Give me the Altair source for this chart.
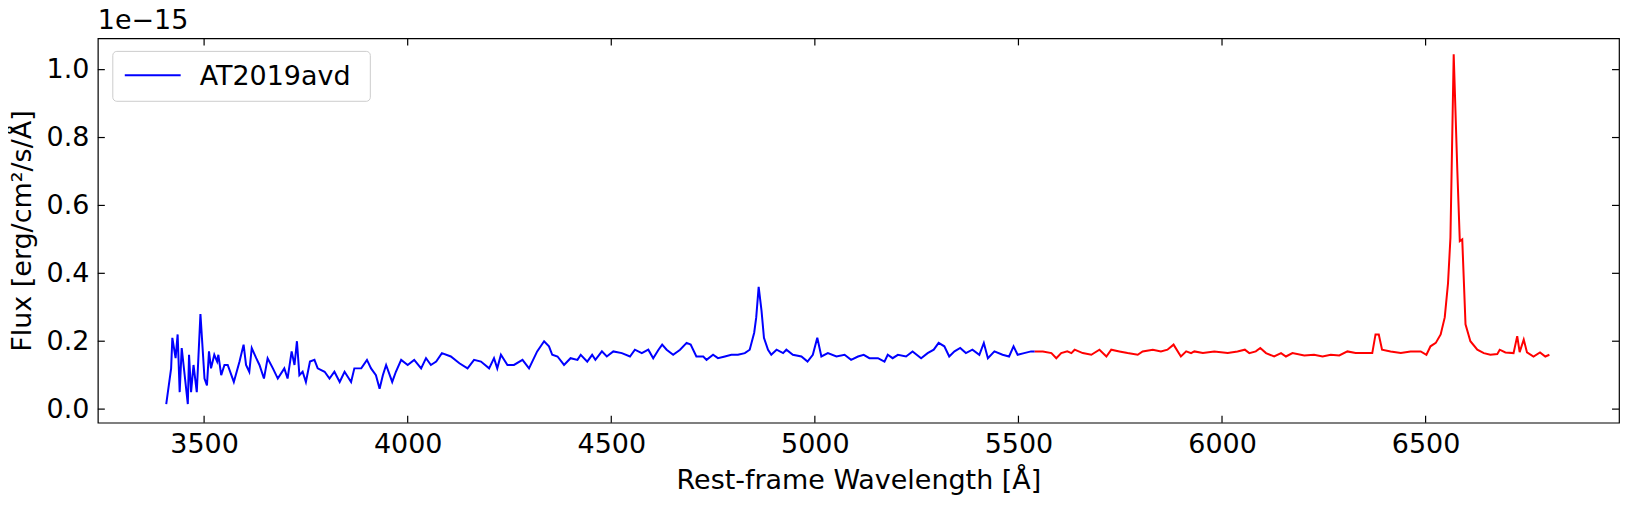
import altair as alt
import pandas as pd

BLUE_WAVE = [
    3407, 3419, 3422, 3430, 3435, 3440, 3445, 3460, 3463, 3468, 3474, 3482, 3491, 3501,
    3507, 3512, 3517, 3525, 3532, 3535, 3542, 3550, 3558, 3573, 3587, 3597, 3603, 3611,
    3617, 3628, 3636, 3647, 3656, 3669, 3681, 3697, 3705, 3715, 3722, 3728, 3734, 3742,
    3750, 3760, 3771, 3779, 3796, 3808, 3820, 3833, 3845, 3861, 3869, 3886, 3900, 3910,
    3922, 3931, 3939, 3947, 3962, 3971, 3984, 4000, 4016, 4033, 4045, 4057, 4070, 4084,
    4106, 4127, 4147, 4163, 4180, 4200, 4212, 4220, 4229, 4245, 4261, 4282, 4298, 4318,
    4335, 4347, 4355, 4368, 4384, 4400, 4417, 4425, 4441, 4453, 4461, 4477, 4489, 4505,
    4526, 4546, 4558, 4575, 4591, 4603, 4616, 4625, 4636, 4652, 4669, 4685, 4695, 4709,
    4726, 4734, 4750, 4762, 4779, 4795, 4811, 4828, 4840, 4851, 4856, 4862, 4869, 4875,
    4885, 4893, 4906, 4922, 4930, 4946, 4967, 4982, 4995, 5006, 5016, 5032, 5053, 5073,
    5089, 5106, 5120, 5134, 5155, 5171, 5179, 5191, 5204, 5224, 5240, 5261, 5277, 5292,
    5304, 5318, 5330, 5343, 5357, 5371, 5387, 5404, 5415, 5425, 5441, 5461, 5477, 5488,
    5498, 5514, 5531, 5540,
]
BLUE_FLUX = [
    0.015, 0.12, 0.21, 0.15, 0.22, 0.05, 0.18, 0.015, 0.16, 0.05, 0.13, 0.05, 0.28, 0.09,
    0.07, 0.17, 0.12, 0.16, 0.14, 0.16, 0.10, 0.13, 0.13, 0.08, 0.14, 0.19, 0.13, 0.11,
    0.18, 0.15, 0.13, 0.09, 0.15, 0.12, 0.09, 0.12, 0.09, 0.17, 0.13, 0.20, 0.10, 0.11,
    0.08, 0.14, 0.145, 0.12, 0.11, 0.09, 0.11, 0.08, 0.11, 0.08, 0.12, 0.12, 0.145, 0.12,
    0.10, 0.06, 0.10, 0.13, 0.08, 0.11, 0.145, 0.13, 0.145, 0.12, 0.15, 0.13, 0.14, 0.165,
    0.155, 0.135, 0.12, 0.145, 0.14, 0.12, 0.15, 0.12, 0.16, 0.13, 0.13, 0.145, 0.12, 0.17,
    0.20, 0.185, 0.16, 0.155, 0.13, 0.15, 0.145, 0.16, 0.14, 0.16, 0.145, 0.17, 0.155, 0.17,
    0.165, 0.155, 0.175, 0.165, 0.175, 0.15, 0.175, 0.19, 0.175, 0.16, 0.175, 0.195, 0.19, 0.155,
    0.155, 0.145, 0.16, 0.15, 0.155, 0.16, 0.16, 0.165, 0.175, 0.225, 0.27, 0.36, 0.29, 0.21,
    0.175, 0.16, 0.175, 0.165, 0.175, 0.16, 0.155, 0.14, 0.16, 0.21, 0.155, 0.165, 0.155, 0.16,
    0.145, 0.155, 0.16, 0.15, 0.15, 0.14, 0.16, 0.15, 0.16, 0.155, 0.17, 0.15, 0.165, 0.175,
    0.195, 0.185, 0.155, 0.17, 0.18, 0.165, 0.175, 0.16, 0.195, 0.15, 0.17, 0.16, 0.155, 0.185,
    0.16, 0.165, 0.17, 0.17,
]

RED_WAVE = [
    5540, 5560, 5581, 5593, 5605, 5620, 5630, 5638, 5658, 5679, 5699, 5716, 5728, 5748,
    5768, 5793, 5805, 5830, 5850, 5866, 5881, 5899, 5912, 5924, 5932, 5953, 5981, 6014,
    6038, 6056, 6067, 6083, 6094, 6108, 6128, 6145, 6157, 6173, 6202, 6226, 6247, 6267,
    6288, 6308, 6328, 6349, 6369, 6377, 6385, 6393, 6414, 6439, 6463, 6488, 6502, 6512,
    6525, 6537, 6547, 6555, 6561, 6569, 6578, 6584, 6590, 6598, 6610, 6627, 6643, 6659,
    6676, 6682, 6696, 6716, 6725, 6731, 6741, 6749, 6765, 6781, 6794, 6804,
]
RED_FLUX = [
    0.17, 0.17, 0.165, 0.15, 0.165, 0.17, 0.165, 0.175, 0.165, 0.16, 0.175, 0.155, 0.175, 0.17,
    0.165, 0.16, 0.17, 0.175, 0.17, 0.175, 0.19, 0.155, 0.17, 0.165, 0.17, 0.165, 0.17, 0.165,
    0.17, 0.175, 0.165, 0.17, 0.18, 0.165, 0.155, 0.165, 0.155, 0.165, 0.158, 0.16, 0.155, 0.16,
    0.158, 0.17, 0.165, 0.165, 0.165, 0.22, 0.22, 0.175, 0.17, 0.165, 0.17, 0.17, 0.16, 0.185,
    0.195, 0.22, 0.27, 0.37, 0.505, 1.045, 0.70, 0.495, 0.50, 0.25, 0.20, 0.175, 0.165, 0.16,
    0.162, 0.175, 0.167, 0.165, 0.215, 0.168, 0.205, 0.167, 0.155, 0.167, 0.155, 0.16,
]

X_TICKS = [3500, 4000, 4500, 5000, 5500, 6000, 6500]
Y_TICKS = [0.0, 0.2, 0.4, 0.6, 0.8, 1.0]
X_DOMAIN = [3239, 6975]
Y_DOMAIN = [-0.04, 1.092]

W, H = 1524, 385
FONT = "DejaVu Sans"
FS = 27

spec = pd.concat([
    pd.DataFrame({"wave": BLUE_WAVE, "flux": BLUE_FLUX, "seg": "blue"}),
    pd.DataFrame({"wave": RED_WAVE, "flux": RED_FLUX, "seg": "red"}),
])

x_scale = alt.Scale(domain=X_DOMAIN, nice=False, zero=False)
y_scale = alt.Scale(domain=Y_DOMAIN, nice=False, zero=False)

lines = alt.Chart(spec).mark_line(strokeWidth=2).encode(
    x=alt.X("wave:Q", scale=x_scale, title="Rest-frame Wavelength [Å]",
            axis=alt.Axis(values=X_TICKS, format="d")),
    y=alt.Y("flux:Q", scale=y_scale, title="Flux [erg/cm²/s/Å]",
            axis=alt.Axis(values=Y_TICKS, format=".1f")),
    color=alt.Color("seg:N", scale=alt.Scale(domain=["blue", "red"], range=["#0000ff", "#ff0000"]),
                    legend=None),
    detail="seg:N",
)

# inward ticks on all four sides, like matplotlib direction="in"
xt = pd.DataFrame({"v": X_TICKS})
yt = pd.DataFrame({"v": Y_TICKS})
tick_style = dict(color="black", strokeWidth=1.2)
x_bot = alt.Chart(xt).mark_rule(**tick_style).encode(
    x=alt.X("v:Q", scale=x_scale), y=alt.value(H), y2=alt.value(H - 7))
x_top = alt.Chart(xt).mark_rule(**tick_style).encode(
    x=alt.X("v:Q", scale=x_scale), y=alt.value(0), y2=alt.value(7))
y_left = alt.Chart(yt).mark_rule(**tick_style).encode(
    y=alt.Y("v:Q", scale=y_scale), x=alt.value(0), x2=alt.value(7))
y_right = alt.Chart(yt).mark_rule(**tick_style).encode(
    y=alt.Y("v:Q", scale=y_scale), x=alt.value(W), x2=alt.value(W - 7))

one = pd.DataFrame({"label": ["AT2019avd"]})
legend_box = alt.Chart(one).mark_rect(
    fill="white", fillOpacity=0.8, stroke="#cccccc", strokeWidth=1, cornerRadius=4
).encode(x=alt.value(15), x2=alt.value(273), y=alt.value(13), y2=alt.value(63))
legend_line = alt.Chart(one).mark_rule(color="#0000ff", strokeWidth=2).encode(
    x=alt.value(27), x2=alt.value(83), y=alt.value(37))
legend_text = alt.Chart(one).mark_text(
    font=FONT, fontSize=FS, align="left", baseline="middle", color="black"
).encode(x=alt.value(102), y=alt.value(39), text="label:N")

offset = alt.Chart(pd.DataFrame({"t": ["1e\u221215"]})).mark_text(
    font=FONT, fontSize=FS, align="left", baseline="bottom", color="black"
).encode(x=alt.value(0), y=alt.value(-3), text="t:N")

chart = alt.layer(
    lines, x_bot, x_top, y_left, y_right, legend_box, legend_line, legend_text, offset
).properties(
    width=W, height=H,
    autosize=alt.AutoSizeParams(type="none"),
    padding={"left": 90, "top": 30, "right": 4, "bottom": 80},
).configure_axis(
    grid=False, domain=False, ticks=False, labelPadding=9,
    labelFont=FONT, titleFont=FONT, labelFontSize=FS, titleFontSize=FS,
    labelColor="black", titleColor="black", titleFontWeight="normal",
).configure_axisX(titlePadding=10).configure_axisY(titlePadding=10).configure_view(
    stroke="black", strokeWidth=1.2
)

chart.save("out.html", embed_options={"renderer": "svg", "actions": False})
